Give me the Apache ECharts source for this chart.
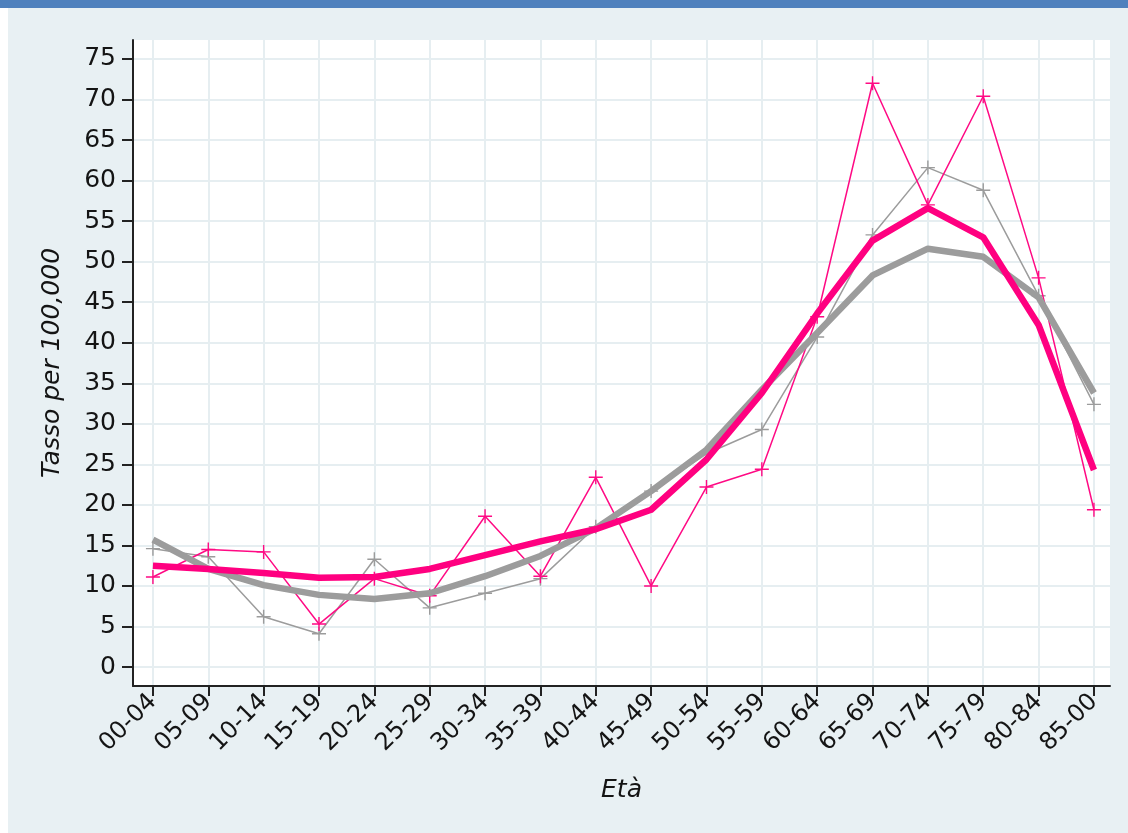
<!DOCTYPE html>
<html>
<head>
<meta charset="utf-8">
<script src="https://cdn.jsdelivr.net/npm/echarts@6/dist/echarts.min.js"></script>
<style>
  html, body { margin: 0; padding: 0; background: #ffffff; width: 1128px; height: 833px; overflow: hidden; }
  #topbar { position: absolute; left: 0; top: 0; width: 1128px; height: 8px; background: #4f81bd; }
  #chart { position: absolute; left: 8px; top: 8px; width: 1120px; height: 825px; background: #e8f0f3; }
</style>
</head>
<body>
<div id="topbar"></div>
<div id="chart"></div>
<script>
// Age classes (x axis)
const ageClasses = ['00-04','05-09','10-14','15-19','20-24','25-29','30-34','35-39','40-44',
                    '45-49','50-54','55-59','60-64','65-69','70-74','75-79','80-84','85-00'];

// Rates per 100,000: observed (thin, with markers) and smoothed (thick)
const pinkObserved = [11.1, 14.5, 14.2, 5.3, 10.9, 8.8, 18.6, 11.2, 23.4,
                      10.0, 22.2, 24.4, 43.2, 72.0, 57.0, 70.4, 48.0, 19.4];
const greyObserved = [14.6, 13.6, 6.2, 4.1, 13.3, 7.3, 9.1, 10.9, 17.3,
                      21.7, 26.3, 29.3, 40.7, 53.3, 61.6, 58.8, 45.8, 32.4];
const pinkSmooth   = [12.5, 12.1, 11.6, 11.0, 11.1, 12.1, 13.8, 15.5, 17.0,
                      19.4, 25.6, 33.8, 43.6, 52.6, 56.6, 53.0, 42.2, 24.3];
const greySmooth   = [15.7, 12.1, 10.1, 8.9, 8.4, 9.1, 11.2, 13.7, 17.1,
                      21.7, 26.8, 34.2, 41.2, 48.3, 51.6, 50.6, 45.6, 33.8];

// Y tick values
const yTicks = [0, 5, 10, 15, 20, 25, 30, 35, 40, 45, 50, 55, 60, 65, 70, 75];

const xIndex = ageClasses.map((_, i) => i);
const toPairs = arr => arr.map((v, i) => [i, v]);

const PINK = '#ff0a84';
const GREY = '#9c9c9c';
const plusSymbol = 'path://M-1,-10h2v20h-2zM-10,-1h20v2h-20z';
const gridColor = '#e6eef1';
const textColor = '#141414';
const fontFamily = 'DejaVu Sans, Verdana, sans-serif';

const chart = echarts.init(document.getElementById('chart'));
chart.setOption({
  animation: false,
  backgroundColor: '#e8f0f3',
  grid: { left: 125, right: 18, top: 32, bottom: 147, backgroundColor: '#ffffff', show: true, borderWidth: 0 },
  xAxis: {
    type: 'value',
    min: -0.36,
    max: 17.29,
    name: 'Età',
    nameLocation: 'middle',
    nameGap: 92,
    nameTextStyle: { fontStyle: 'italic', fontSize: 25, color: textColor, fontFamily },
    axisLine: { show: true, onZero: false, lineStyle: { color: '#222', width: 2 } },
    axisTick: { show: true, length: 10, customValues: xIndex, lineStyle: { color: '#222', width: 2 } },
    axisLabel: {
      customValues: xIndex,
      rotate: 45,
      fontSize: 24,
      color: textColor,
      fontFamily,
      margin: 12,
      formatter: v => ageClasses[Math.round(v)] || ''
    },
    splitLine: { show: true, lineStyle: { color: gridColor, width: 2 } }
  },
  yAxis: {
    type: 'value',
    min: -2.34,
    max: 77.34,
    name: 'Tasso per 100,000',
    nameLocation: 'middle',
    nameGap: 68,
    nameTextStyle: { fontStyle: 'italic', fontSize: 25, color: textColor, fontFamily },
    axisLine: { show: true, onZero: false, lineStyle: { color: '#222', width: 2 } },
    axisTick: { show: true, length: 11, customValues: yTicks, lineStyle: { color: '#222', width: 2 } },
    axisLabel: { customValues: yTicks, fontSize: 25, color: textColor, fontFamily, margin: 17 },
    splitLine: { show: true, lineStyle: { color: gridColor, width: 2 } }
  },
  series: [
    {
      type: 'line', data: toPairs(greyObserved),
      symbol: plusSymbol, symbolSize: 14, showAllSymbol: true,
      lineStyle: { color: GREY, width: 1.5 }, itemStyle: { color: GREY }, z: 2
    },
    {
      type: 'line', data: toPairs(pinkObserved),
      symbol: plusSymbol, symbolSize: 14, showAllSymbol: true,
      lineStyle: { color: PINK, width: 1.5 }, itemStyle: { color: PINK }, z: 3
    },
    {
      type: 'line', data: toPairs(greySmooth), symbol: 'none',
      lineStyle: { color: GREY, width: 6.5, join: 'round' }, z: 4
    },
    {
      type: 'line', data: toPairs(pinkSmooth), symbol: 'none',
      lineStyle: { color: '#ff0080', width: 6.5, join: 'round' }, z: 5
    }
  ]
});
</script>
</body>
</html>
